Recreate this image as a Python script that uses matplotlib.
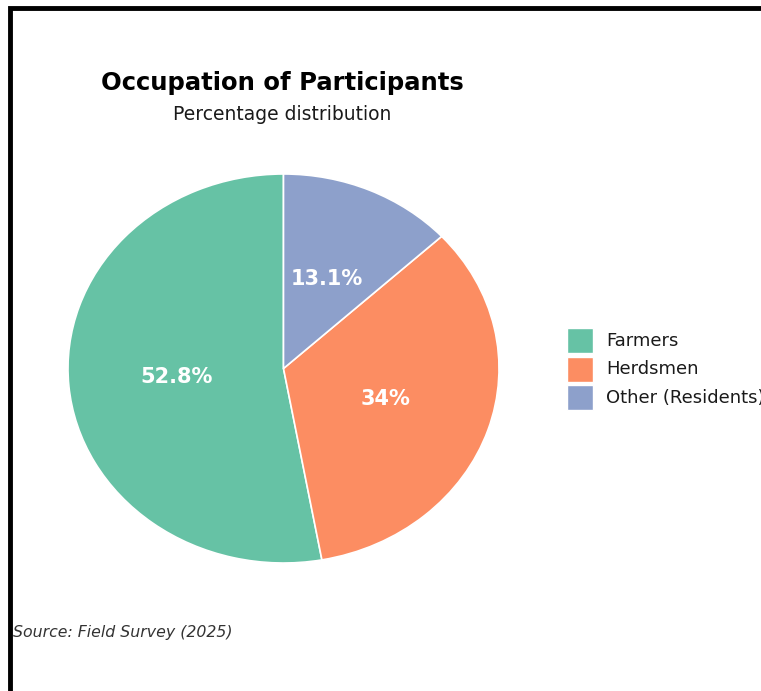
import matplotlib.pyplot as plt
from matplotlib.patches import Rectangle

# occupation shares (%)
occupations = ['Farmers', 'Herdsmen', 'Other (Residents)']
shares = [52.8, 34, 13.1]
colours = ['#66C2A5', '#FC8D62', '#8DA0CB']

W, H = 761, 691
fig = plt.figure(figsize=(W / 100, H / 100), dpi=100)

# pie panel, stretched a little wider than tall
ax = fig.add_axes([68 / W, 1 - 563 / H, 431 / W, 389 / H])
total = sum(shares)
wedges, _, autotexts = ax.pie(
    shares, colors=colours, startangle=90, counterclock=True,
    autopct=lambda p: '{:g}%'.format(round(p * total / 100, 1)),
    pctdistance=0.5,
    wedgeprops=dict(edgecolor='white', linewidth=1.2),
    textprops=dict(color='white', fontsize=15, fontweight='bold'))
ax.set_aspect('auto')
ax.set_xlim(-1, 1)
ax.set_ylim(-1, 1)

fig.text(282 / W, 1 - 83 / H, 'Occupation of Participants', ha='center', va='center',
         fontsize=17.5, fontweight='bold', color='black')
fig.text(282 / W, 1 - 115 / H, 'Percentage distribution', ha='center', va='center',
         fontsize=13.5, color='#1a1a1a')
fig.text(13 / W, 1 - 632 / H, 'Source: Field Survey (2025)', ha='left', va='center',
         fontsize=11.3, style='italic', color='#333333')

# legend keys and labels
for i, (name, c) in enumerate(zip(occupations, colours)):
    y = 328 + i * 28.5
    fig.patches.append(Rectangle((567 / W, 1 - (y + 25) / H), 26 / W, 25 / H,
                                 transform=fig.transFigure, facecolor=c,
                                 edgecolor='white', linewidth=1))
    fig.text(606 / W, 1 - (y + 13) / H, name, ha='left', va='center',
             fontsize=13, color='#1a1a1a')

# frame around the figure
fig.patches.append(Rectangle((10 / W, -0.1), 1.2, 1 - 8 / H + 0.1,
                             transform=fig.transFigure, fill=False,
                             edgecolor='black', linewidth=3.5))

fig.savefig('out.png', dpi=100, facecolor='white')
